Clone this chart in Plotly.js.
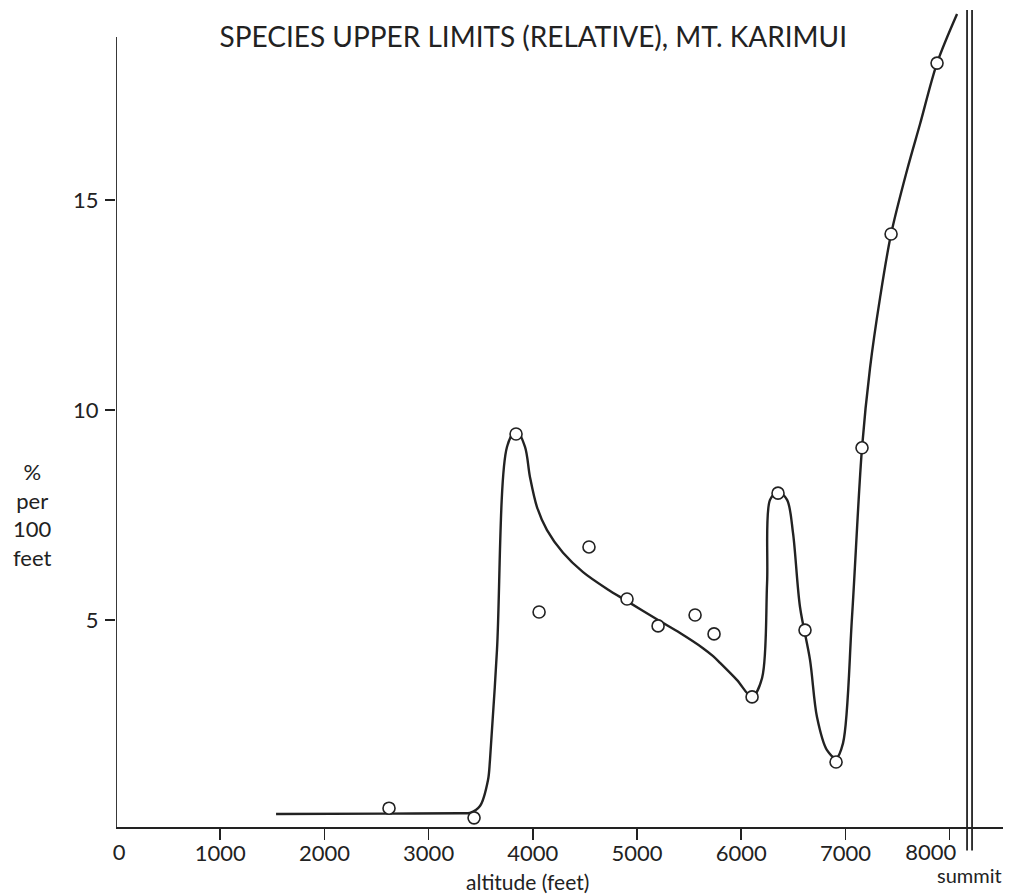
<!DOCTYPE html>
<html>
<head>
<meta charset="utf-8">
<script src="https://cdn.plot.ly/plotly-3.0.1.min.js"></script>
<style>html,body{margin:0;padding:0;background:#fff;}</style>
</head>
<body>
<div id="chart" style="width:1010px;height:894px;"></div>
<script>
// Observed points (altitude in feet, % per 100 feet)
const altitudeObs = [2620, 3436, 3839, 4060, 4539, 4904, 5202, 5557, 5739, 6104, 6353, 6612, 6910, 7159, 7438, 7879];
const pctObs      = [0.52, 0.29, 9.43, 5.19, 6.74, 5.50, 4.86, 5.12, 4.67, 3.17, 8.02, 4.76, 1.62, 9.10, 14.19, 18.26];

// Hand-drawn smooth curve, vertices
const curveAlt = [1536, 2600, 3300, 3397, 3493, 3570, 3589, 3656, 3752, 3839, 3925, 3973, 4040, 4136, 4290, 4482, 4712, 4904, 5202, 5413, 5633, 5730, 5797, 5960, 6104, 6200, 6248, 6276, 6353, 6440, 6497, 6564, 6660, 6727, 6823, 6910, 6977, 7063, 7159, 7236, 7332, 7438, 7591, 7716, 7879, 8071];
const curvePct = [0.38, 0.39, 0.40, 0.41, 0.57, 1.19, 1.67, 4.29, 9.12, 9.52, 9.12, 8.40, 7.69, 7.14, 6.60, 6.14, 5.74, 5.45, 5.00, 4.69, 4.33, 4.14, 3.98, 3.57, 3.17, 3.62, 5.88, 7.86, 8.05, 7.86, 7.07, 5.31, 4.05, 2.69, 1.90, 1.71, 2.07, 5.07, 9.10, 11.00, 12.67, 14.19, 15.71, 16.81, 18.26, 19.43];

// Axis ticks
const xTickVals = [0, 1000, 2000, 3000, 4000, 5000, 6000, 7000, 8000];
const xTickText = ['0', '1000', '2000', '3000', '4000', '5000', '6000', '7000', '8000'];
const yTickVals = [5, 10, 15];
const yTickText = ['5', '10', '15'];

// Summit double line (altitude)
const summitAlt = [8167, 8215];

const titleText = 'SPECIES UPPER LIMITS (RELATIVE), MT. KARIMUI';
const xTitle = 'altitude (feet)';
const yTitle = '%<br>per<br>100<br>feet';
const summitLabel = 'summit';

const ink = '#222';
const FONT = 'Lato, "Open Sans", sans-serif';

const X_RANGE = [0, 8512];
const Y_RANGE = [-0.69, 19.524];
const AXIS_POS = 0.0377;

const mainTicks = xTickVals.filter(v => v !== 0);
const mainText = mainTicks.map(v => v === 8000 ? '' : xTickText[xTickVals.indexOf(v)]);

const traces = [
  { x: curveAlt, y: curvePct, mode: 'lines', type: 'scatter',
    line: { color: ink, width: 2.4, shape: 'spline', smoothing: 0.9 }, hoverinfo: 'skip' },
  { x: altitudeObs, y: pctObs, mode: 'markers', type: 'scatter',
    marker: { symbol: 'circle', size: 12, color: '#fff', line: { color: ink, width: 1.6 } } },
  { x: [], y: [], xaxis: 'x2', type: 'scatter', mode: 'markers' },
  { x: [], y: [], xaxis: 'x3', type: 'scatter', mode: 'markers' }
];

const shapes = [
  // y axis line
  { type: 'line', xref: 'x', yref: 'y', x0: 0, x1: 0, y0: 0.07, y1: 18.88, line: { color: ink, width: 1.8 } }
];
summitAlt.forEach(a => shapes.push({ type: 'line', xref: 'x', yref: 'paper', x0: a, x1: a, y0: 0.01, y1: 1, line: { color: ink, width: 1.8 } }));

const tickFont = { family: FONT, size: 22, color: ink };

const layout = {
  width: 1010, height: 894,
  margin: { l: 116, r: 7, t: 10, b: 35 },
  paper_bgcolor: '#fff', plot_bgcolor: '#fff',
  showlegend: false,
  title: { text: titleText, font: { family: FONT, size: 28, color: ink },
           xref: 'container', yref: 'container', x: 0.528, y: 1 - 37 / 894, xanchor: 'center', yanchor: 'middle' },
  xaxis: {
    range: X_RANGE, anchor: 'free', position: AXIS_POS,
    showline: true, linecolor: ink, linewidth: 1.8,
    showgrid: false, zeroline: false,
    tickmode: 'array', tickvals: mainTicks, ticktext: mainText,
    ticks: 'outside', ticklen: 11, tickwidth: 1.6, tickcolor: ink,
    ticklabelstandoff: -5,
    tickfont: tickFont
  },
  xaxis2: {
    range: X_RANGE, overlaying: 'x', anchor: 'free', position: AXIS_POS,
    showline: false, showgrid: false, zeroline: false,
    tickmode: 'array', tickvals: [0], ticktext: [xTickText[0]],
    ticks: 'outside', ticklen: 11, tickcolor: 'rgba(0,0,0,0)', ticklabelshift: 3,
    ticklabelstandoff: -5,
    tickfont: tickFont
  },
  xaxis3: {
    range: X_RANGE, overlaying: 'x', anchor: 'free', position: AXIS_POS,
    showline: false, showgrid: false, zeroline: false,
    tickmode: 'array', tickvals: [8000], ticktext: [xTickText[8]],
    ticks: 'outside', ticklen: 11, tickcolor: 'rgba(0,0,0,0)', ticklabelshift: -19,
    ticklabelstandoff: -5,
    tickfont: tickFont
  },
  yaxis: {
    range: Y_RANGE, showline: false, showgrid: false, zeroline: false,
    tickmode: 'array', tickvals: yTickVals, ticktext: yTickText,
    ticks: 'outside', ticklen: 10, tickwidth: 1.6, tickcolor: ink,
    ticklabelstandoff: 2,
    tickfont: tickFont
  },
  shapes: shapes,
  annotations: [
    { text: xTitle, xref: 'paper', yref: 'paper', x: (527 - 116) / 887, y: -(881 - 859) / 849,
      xanchor: 'center', yanchor: 'middle', showarrow: false, font: { family: FONT, size: 21, color: ink } },
    { text: yTitle, xref: 'paper', yref: 'paper', x: (32 - 116) / 887, y: (859 - 514) / 849,
      xanchor: 'center', yanchor: 'middle', showarrow: false, align: 'center',
      font: { family: FONT, size: 22, color: ink } },
    { text: summitLabel, xref: 'x', yref: 'paper', x: 8190, y: -(875 - 859) / 849,
      xanchor: 'center', yanchor: 'middle', showarrow: false, font: { family: FONT, size: 20, color: ink } }
  ]
};

Plotly.newPlot('chart', traces, layout, { displayModeBar: false, staticPlot: true });
</script>
</body>
</html>
